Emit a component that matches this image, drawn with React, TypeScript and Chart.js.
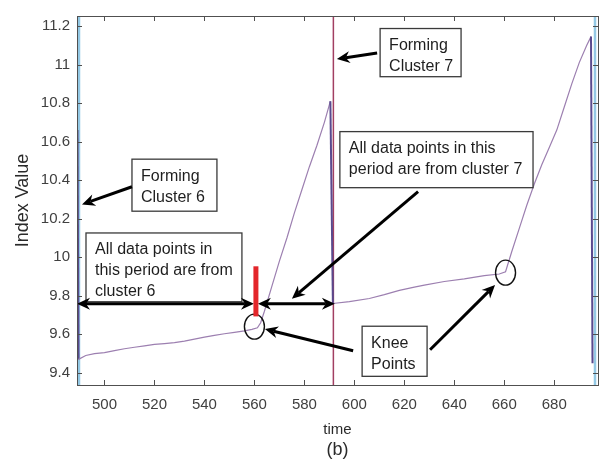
import { useEffect, useRef } from 'react';
import { Chart, registerables } from 'chart.js';

Chart.register(...registerables);

// Index value recorded over time; the sharp drops mark where a new cluster starts forming.
const timeSteps = [
  489.2, 489.6, 492.5, 496, 500, 504, 508, 512, 516, 520, 524, 528, 532, 536, 540, 544, 548, 552, 556, 559,
  561.2, 562.5, 564, 567, 570, 573, 576, 579, 582, 585, 588, 590.4, 591.4, 598, 606, 612, 618, 624, 628, 636,
  644, 652, 658, 660.5, 663, 666, 669, 672, 675, 678, 681, 684, 687, 690, 693, 694.7, 695.3,
];
const indexValues = [
  10.66, 9.47, 9.49, 9.5, 9.505, 9.515, 9.525, 9.533, 9.54, 9.548, 9.552, 9.557, 9.565, 9.575, 9.585, 9.595, 9.603, 9.61, 9.618, 9.626,
  9.634, 9.66, 9.72, 9.85, 9.98, 10.1, 10.23, 10.35, 10.47, 10.58, 10.7, 10.81, 9.76, 9.77, 9.786, 9.806, 9.828, 9.845, 9.855, 9.874,
  9.888, 9.905, 9.913, 9.925, 10.03, 10.15, 10.27, 10.38, 10.48, 10.57, 10.66, 10.78, 10.9, 11.01, 11.1, 11.145, 9.45,
];

// Time at which cluster 7 begins, and the window edges.
const clusterBoundaryTime = 591.6;
const windowEdgeTimes = [489.8, 696.3];

const xTicks = [500, 520, 540, 560, 580, 600, 620, 640, 660, 680];
const yTicks = [9.4, 9.6, 9.8, 10, 10.2, 10.4, 10.6, 10.8, 11, 11.2];

const X_MIN = 489;
const X_MAX = 697.5;
const Y_MIN = 9.337;
const Y_MAX = 11.252;

const FONT = '"Liberation Sans", Arial, sans-serif';

// Callout boxes (data coordinates of the box corners).
const calloutBoxes = [
  { lines: ['Forming', 'Cluster 6'], t0: 511.0, t1: 545.0, v0: 10.509, v1: 10.239 },
  { lines: ['All data points in', 'this period are from', 'cluster 6'], t0: 492.6, t1: 555.0, v0: 10.126, v1: 9.769 },
  { lines: ['Forming', 'Cluster 7'], t0: 610.3, t1: 642.7, v0: 11.187, v1: 10.937 },
  { lines: ['All data points in this', 'period are from cluster 7'], t0: 594.2, t1: 671.5, v0: 10.652, v1: 10.361 },
  { lines: ['Knee', 'Points'], t0: 603.1, t1: 629.1, v0: 9.642, v1: 9.382 },
];

const pointerArrows = [
  { from: [511.0, 10.366], to: [491.0, 10.274] },
  { from: [609.1, 11.06], to: [593.0, 11.029] },
  { from: [625.5, 10.341], to: [575.0, 9.785] },
  { from: [599.5, 9.515], to: [564.2, 9.627] },
  { from: [630.3, 9.52], to: [656.3, 9.856] },
];

const spanArrows = [
  { from: 489.0, to: 559.8, v: 9.759 },
  { from: 561.4, to: 592.2, v: 9.759 },
];

const kneePoints = [
  [560.0, 9.64],
  [660.5, 9.92],
];

const splitMarker = { t: 560.6, v0: 9.953, v1: 9.693 };

function drawHead(ctx: CanvasRenderingContext2D, x1: number, y1: number, x2: number, y2: number) {
  const dx = x2 - x1;
  const dy = y2 - y1;
  const len = Math.hypot(dx, dy) || 1;
  const ux = dx / len;
  const uy = dy / len;
  const nx = -uy;
  const ny = ux;
  const L = 13;
  const W = 6;
  const notch = 4;
  ctx.beginPath();
  ctx.moveTo(x2, y2);
  ctx.lineTo(x2 - ux * L + nx * W, y2 - uy * L + ny * W);
  ctx.lineTo(x2 - ux * (L - notch), y2 - uy * (L - notch));
  ctx.lineTo(x2 - ux * L - nx * W, y2 - uy * L - ny * W);
  ctx.closePath();
  ctx.fill();
}

function drawArrow(ctx: CanvasRenderingContext2D, x1: number, y1: number, x2: number, y2: number, both = false) {
  const dx = x2 - x1;
  const dy = y2 - y1;
  const len = Math.hypot(dx, dy) || 1;
  const ux = dx / len;
  const uy = dy / len;
  const back = 9;
  ctx.beginPath();
  ctx.moveTo(both ? x1 + ux * back : x1, both ? y1 + uy * back : y1);
  ctx.lineTo(x2 - ux * back, y2 - uy * back);
  ctx.stroke();
  drawHead(ctx, x1, y1, x2, y2);
  if (both) drawHead(ctx, x2, y2, x1, y1);
}

const annotationPlugin = {
  id: 'clusterAnnotations',
  afterDatasetsDraw(chart: Chart) {
    const { ctx } = chart;
    const xs = chart.scales.x;
    const ys = chart.scales.y;
    const px = (t: number) => xs.getPixelForValue(t);
    const py = (v: number) => ys.getPixelForValue(v);
    ctx.save();

    // callout boxes
    for (const b of calloutBoxes) {
      const x0 = px(b.t0);
      const x1 = px(b.t1);
      const y0 = py(b.v0);
      const y1 = py(b.v1);
      ctx.fillStyle = '#ffffff';
      ctx.fillRect(x0, y0, x1 - x0, y1 - y0);
      ctx.strokeStyle = '#3a3a3a';
      ctx.lineWidth = 1.3;
      ctx.strokeRect(x0, y0, x1 - x0, y1 - y0);
      ctx.fillStyle = '#1e1e1e';
      ctx.font = `16px ${FONT}`;
      ctx.textAlign = 'left';
      ctx.textBaseline = 'middle';
      b.lines.forEach((line, i) => {
        ctx.fillText(line, x0 + 9, y0 + 17 + i * 21);
      });
    }

    // arrows
    ctx.strokeStyle = '#000000';
    ctx.fillStyle = '#000000';
    ctx.lineWidth = 3;
    ctx.lineCap = 'butt';
    for (const a of pointerArrows) {
      drawArrow(ctx, px(a.from[0]), py(a.from[1]), px(a.to[0]), py(a.to[1]));
    }
    for (const s of spanArrows) {
      drawArrow(ctx, px(s.from), py(s.v), px(s.to), py(s.v), true);
    }

    // knee point rings
    ctx.strokeStyle = '#111111';
    ctx.lineWidth = 1.4;
    for (const k of kneePoints) {
      ctx.beginPath();
      ctx.ellipse(px(k[0]), py(k[1]), 10, 12.5, 0, 0, Math.PI * 2);
      ctx.stroke();
    }

    // split marker
    ctx.strokeStyle = '#e3262b';
    ctx.lineWidth = 5;
    ctx.beginPath();
    ctx.moveTo(px(splitMarker.t), py(splitMarker.v0));
    ctx.lineTo(px(splitMarker.t), py(splitMarker.v1));
    ctx.stroke();

    ctx.restore();
  },
  afterDraw(chart: Chart) {
    const { ctx, chartArea } = chart;
    const { left, right, top, bottom } = chartArea;
    const xs = chart.scales.x;
    const ys = chart.scales.y;
    ctx.save();
    ctx.strokeStyle = '#505050';
    ctx.lineWidth = 1;
    ctx.strokeRect(Math.round(left) + 0.5, Math.round(top) + 0.5, Math.round(right - left), Math.round(bottom - top));
    ctx.beginPath();
    const tl = 5;
    for (const t of xTicks) {
      const x = Math.round(xs.getPixelForValue(t)) + 0.5;
      ctx.moveTo(x, bottom);
      ctx.lineTo(x, bottom - tl);
      ctx.moveTo(x, top);
      ctx.lineTo(x, top + tl);
    }
    for (const v of yTicks) {
      const y = Math.round(ys.getPixelForValue(v)) + 0.5;
      ctx.moveTo(left, y);
      ctx.lineTo(left + tl, y);
      ctx.moveTo(right, y);
      ctx.lineTo(right - tl, y);
    }
    ctx.stroke();

    ctx.fillStyle = '#2a2a2a';
    ctx.font = `18px ${FONT}`;
    ctx.textAlign = 'center';
    ctx.textBaseline = 'middle';
    ctx.fillText('(b)', (left + right) / 2, 450);
    ctx.restore();
  },
};

export default function App() {
  const canvasRef = useRef<HTMLCanvasElement | null>(null);

  useEffect(() => {
    const canvas = canvasRef.current;
    if (!canvas) return;

    const series = timeSteps.map((t, i) => ({ x: t, y: indexValues[i] }));
    const boundary = [
      { x: clusterBoundaryTime, y: Y_MIN },
      { x: clusterBoundaryTime, y: Y_MAX },
    ];
    const edges = [
      { x: windowEdgeTimes[0], y: Y_MIN },
      { x: windowEdgeTimes[0], y: Y_MAX },
      { x: (windowEdgeTimes[0] + windowEdgeTimes[1]) / 2, y: null },
      { x: windowEdgeTimes[1], y: Y_MAX },
      { x: windowEdgeTimes[1], y: Y_MIN },
    ];

    const chart = new Chart(canvas, {
      type: 'line',
      data: {
        datasets: [
          {
            data: series,
            borderColor: '#9c7fb0',
            borderWidth: 1.2,
            pointRadius: 0,
            tension: 0,
            segment: {
              borderColor: (c: any) => (c.p1.parsed.y < c.p0.parsed.y - 0.5 ? '#5a4a8e' : undefined),
              borderWidth: (c: any) => (c.p1.parsed.y < c.p0.parsed.y - 0.5 ? 2 : undefined),
            },
          },
          {
            data: boundary,
            borderColor: '#a23f62',
            borderWidth: 1.5,
            pointRadius: 0,
          },
          {
            data: edges as any,
            borderColor: '#93c8e4',
            borderWidth: 2.5,
            pointRadius: 0,
            spanGaps: false,
          },
        ],
      },
      options: {
        responsive: false,
        maintainAspectRatio: false,
        animation: false,
        layout: { padding: { top: 9, right: 7, left: 0, bottom: 0 } },
        plugins: {
          legend: { display: false },
          tooltip: { enabled: false },
        },
        scales: {
          x: {
            type: 'linear',
            min: X_MIN,
            max: X_MAX,
            grid: { display: false, drawTicks: false },
            border: { display: false },
            afterBuildTicks: (s: any) => {
              s.ticks = xTicks.map((value) => ({ value }));
            },
            afterFit: (s: any) => {
              s.height = 80;
            },
            ticks: {
              color: '#404040',
              font: { family: FONT, size: 15 },
              padding: 11,
              maxRotation: 0,
              autoSkip: false,
              callback: (v: any) => String(v),
            },
            title: {
              display: true,
              text: 'time',
              color: '#2a2a2a',
              font: { family: FONT, size: 15 },
              padding: { top: 0, bottom: 26 },
            },
          },
          y: {
            type: 'linear',
            min: Y_MIN,
            max: Y_MAX,
            grid: { display: false, drawTicks: false },
            border: { display: false },
            afterBuildTicks: (s: any) => {
              s.ticks = yTicks.map((value) => ({ value }));
            },
            afterFit: (s: any) => {
              s.width = 77;
            },
            ticks: {
              color: '#404040',
              font: { family: FONT, size: 15 },
              padding: 7,
              autoSkip: false,
              callback: (v: any) => String(Number(Number(v).toFixed(1))),
            },
            title: {
              display: true,
              text: 'Index Value',
              color: '#2a2a2a',
              font: { family: FONT, size: 18 },
              padding: { top: 12, bottom: 0 },
            },
          },
        },
      },
      plugins: [annotationPlugin],
    });

    return () => chart.destroy();
  }, []);

  return (
    <div style={{ position: 'fixed', left: 0, top: 0, width: 605, height: 465, background: '#ffffff' }}>
      <canvas ref={canvasRef} width={605} height={465} style={{ display: 'block' }} />
    </div>
  );
}
